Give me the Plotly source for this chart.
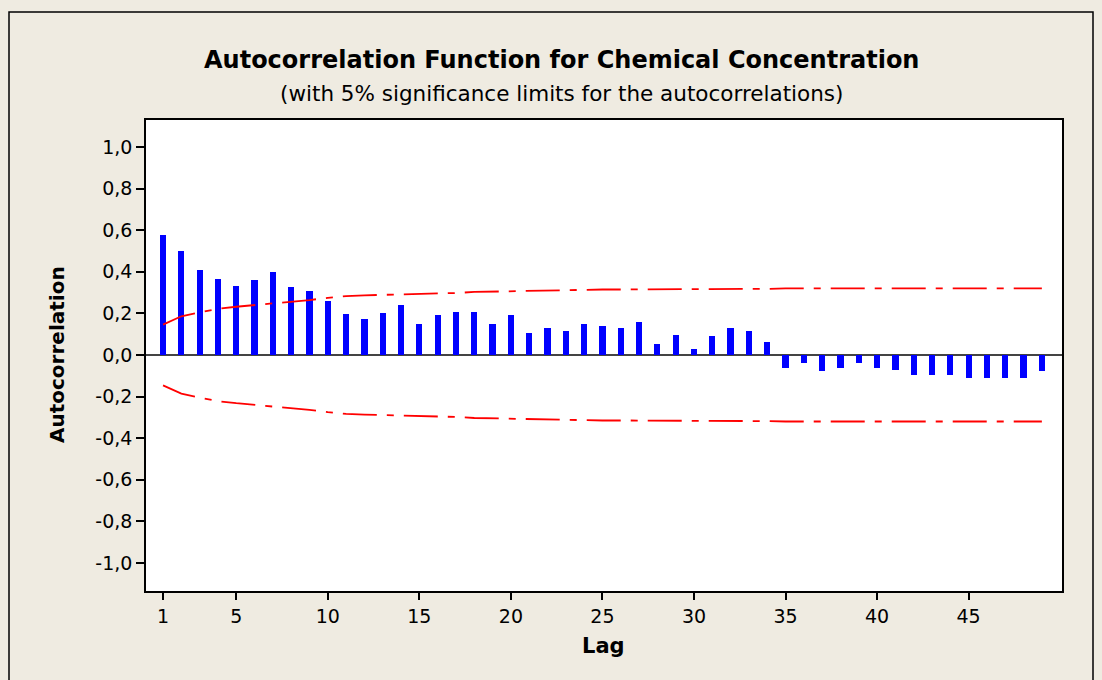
import plotly.graph_objects as go

lags = list(range(1, 50))
acf = [0.578, 0.501, 0.408, 0.367, 0.333, 0.359, 0.401, 0.325, 0.308, 0.258,
       0.199, 0.173, 0.200, 0.240, 0.149, 0.191, 0.207, 0.207, 0.149, 0.191,
       0.106, 0.131, 0.115, 0.149, 0.139, 0.130, 0.157, 0.054, 0.096, 0.029,
       0.090, 0.131, 0.115, 0.064, -0.061, -0.037, -0.079, -0.063, -0.037, -0.063,
       -0.071, -0.096, -0.096, -0.096, -0.112, -0.112, -0.112, -0.112, -0.079]
upper_limit = [0.146, 0.186, 0.205, 0.222, 0.232, 0.240, 0.247, 0.258, 0.264, 0.275,
               0.283, 0.287, 0.289, 0.293, 0.293, 0.295, 0.298, 0.303, 0.305, 0.306,
               0.307, 0.308, 0.313, 0.314, 0.315, 0.315, 0.315, 0.315, 0.315, 0.315,
               0.315, 0.316, 0.316, 0.318, 0.320, 0.320, 0.320, 0.320, 0.320, 0.320,
               0.320, 0.320, 0.320, 0.320, 0.320, 0.320, 0.320, 0.320, 0.320]
lower_limit = [-v for v in upper_limit]

x_tickvals = [1, 5, 10, 15, 20, 25, 30, 35, 40, 45]
y_tickvals = [1.0, 0.8, 0.6, 0.4, 0.2, 0.0, -0.2, -0.4, -0.6, -0.8, -1.0]
y_ticktext = ["1,0", "0,8", "0,6", "0,4", "0,2", "0,0", "-0,2", "-0,4", "-0,6", "-0,8", "-1,0"]

FONT = "DejaVu Sans, Arial, sans-serif"
W, H = 1102, 680
L, R, T, B = 146, 40, 120, 89
pw, ph = W - L - R, H - T - B

def px(xp):
    return (xp - L) / pw

def py(yp):
    return (H - B - yp) / ph

DASH = "34px,10px,7px,10px"

fig = go.Figure()
fig.add_trace(go.Bar(x=lags, y=acf, width=0.34, marker=dict(color="#0000FF", line=dict(width=0)),
                     showlegend=False))
fig.add_trace(go.Scatter(x=lags, y=upper_limit, mode="lines",
                         line=dict(color="#FF0000", width=1.8, dash=DASH), showlegend=False))
fig.add_trace(go.Scatter(x=lags, y=lower_limit, mode="lines",
                         line=dict(color="#FF0000", width=1.8, dash=DASH), showlegend=False))

fig.update_layout(
    width=W, height=H,
    margin=dict(l=L, r=R, t=T, b=B),
    paper_bgcolor="#EFEBE1",
    plot_bgcolor="#FFFFFF",
    font=dict(family=FONT, size=19, color="#000000"),
    bargap=0,
    xaxis=dict(range=[0.07, 50.1], tickvals=x_tickvals, ticks="outside", ticklen=7,
               tickcolor="#000", tickwidth=1.5, showgrid=False, zeroline=False,
               showline=True, linecolor="#000", linewidth=1.5, mirror=True,
               tickfont=dict(size=19, family=FONT)),
    yaxis=dict(range=[-1.135, 1.13], tickvals=y_tickvals, ticktext=y_ticktext,
               ticks="outside", ticklen=8, tickcolor="#000", tickwidth=1.5,
               showgrid=False, zeroline=True, zerolinecolor="#444", zerolinewidth=1.5,
               showline=True, linecolor="#000", linewidth=1.5, mirror=True,
               tickfont=dict(size=19, family=FONT)),
    annotations=[
        dict(text="<b>Autocorrelation Function for Chemical Concentration</b>", xref="paper", yref="paper",
             x=px(561), y=py(60), showarrow=False, font=dict(size=24, family=FONT),
             xanchor="center", yanchor="middle"),
        dict(text="(with 5% significance limits for the autocorrelations)", xref="paper", yref="paper",
             x=px(561), y=py(93), showarrow=False, font=dict(size=21.5, family=FONT),
             xanchor="center", yanchor="middle"),
        dict(text="<b>Lag</b>", xref="paper", yref="paper", x=px(603), y=py(646), showarrow=False,
             font=dict(size=21, family=FONT), xanchor="center", yanchor="middle"),
        dict(text="<b>Autocorrelation</b>", xref="paper", yref="paper", x=px(57), y=py(355),
             showarrow=False, textangle=-90, font=dict(size=20, family=FONT),
             xanchor="center", yanchor="middle"),
    ],
    shapes=[
        dict(type="rect", xref="paper", yref="paper", x0=px(9), x1=px(1093), y0=py(700), y1=py(12),
             line=dict(color="#000", width=1.5), fillcolor="rgba(0,0,0,0)", layer="below"),
    ],
)

fig.write_html("out.html")
